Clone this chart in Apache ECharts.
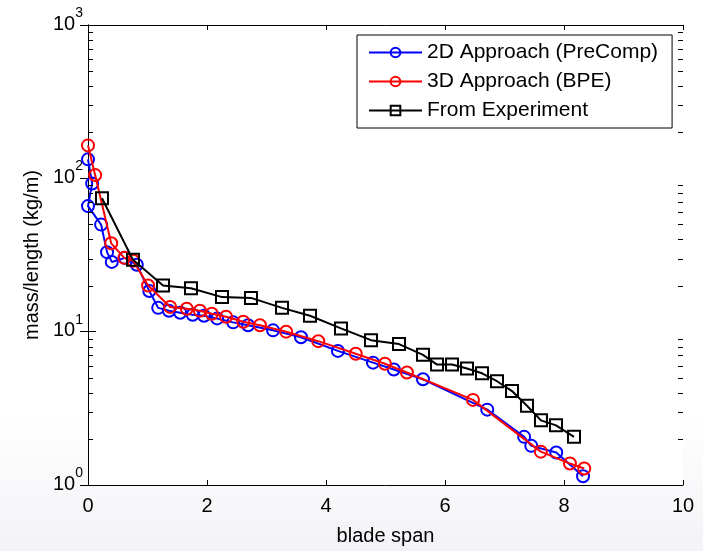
<!DOCTYPE html>
<html>
<head>
<meta charset="utf-8">
<script src="https://cdn.jsdelivr.net/npm/echarts@6/dist/echarts.min.js"></script>
<style>
  html, body { margin: 0; padding: 0; }
  body { background: linear-gradient(to bottom, #ffffff 0%, #ffffff 75%, #f2f3f6 100%); }
  #chart { width: 703px; height: 551px; }
</style>
</head>
<body>
<div id="chart"></div>
<script>
// Mass per unit length along the blade span
const xTicks = [0, 2, 4, 6, 8, 10];
const yTicks = [1, 10, 100, 1000];

const seriesNames = ['2D Approach (PreComp)', '3D Approach (BPE)', 'From Experiment'];

const precompSpan = [0, 0.07, 0, 0.22, 0.32, 0.40, 0.62, 0.82, 1.03, 1.18, 1.36, 1.55, 1.76, 1.95,
  2.17, 2.44, 2.69, 3.11, 3.58, 4.20, 4.79, 5.14, 5.63, 6.71, 7.33, 7.45, 7.87, 8.32];
const precompMass = [133, 92.5, 65.9, 49.9, 33.0, 28.5, 30.3, 27.3, 18.4, 14.3, 13.7, 13.3, 12.9, 12.7,
  12.2, 11.5, 11.0, 10.2, 9.2, 7.49, 6.28, 5.66, 4.89, 3.10, 2.06, 1.80, 1.63, 1.14];

const bpeSpan = [0, 0.12, 0.39, 0.61, 0.76, 1.01, 1.38, 1.66, 1.88, 2.08, 2.32, 2.61, 2.89, 3.33,
  3.87, 4.50, 4.99, 5.36, 6.47, 7.61, 8.10, 8.34];
const bpeMass = [164, 105, 37.7, 30.3, 29.0, 20.0, 14.5, 14.1, 13.7, 13.1, 12.5, 11.6, 11.0, 10.0,
  8.67, 7.17, 6.18, 5.42, 3.59, 1.65, 1.38, 1.28];

const expSpan = [0.235, 0.756, 1.261, 1.731, 2.252, 2.739, 3.261, 3.731, 4.252, 4.756, 5.227, 5.630,
  5.866, 6.118, 6.370, 6.622, 6.874, 7.126, 7.378, 7.613, 7.866, 8.168];
const expMass = [74.2, 29.4, 20.0, 19.2, 16.8, 16.6, 14.3, 12.7, 10.5, 8.8, 8.3, 7.06,
  6.1, 6.1, 5.75, 5.35, 4.75, 4.10, 3.29, 2.64, 2.45, 2.06];

const pairs = (xs, ys) => xs.map((x, i) => [x, ys[i]]);

const FONT = '"Liberation Sans", Arial, sans-serif';
const BLUE = '#0000ff', RED = '#ff0000', BLACK = '#000000';

const chart = echarts.init(document.getElementById('chart'), null, { renderer: 'canvas' });

const axisLineStyle = { lineStyle: { color: '#000', width: 1 } };

function expLabel(v) {
  const e = Math.round(Math.log10(v));
  return '{b|10}{s|' + e + '}';
}

const option = {
  animation: false,
  backgroundColor: 'transparent',
  textStyle: { fontFamily: FONT },
  grid: {
    left: 88, top: 25, width: 595, height: 470,
    show: true, backgroundColor: '#ffffff', borderWidth: 0
  },
  legend: {
    data: seriesNames,
    orient: 'vertical',
    left: 357, top: 35,
    itemWidth: 53, itemHeight: 12, itemGap: 8,
    padding: [7, 14, 7, 11],
    backgroundColor: '#ffffff',
    borderColor: '#000', borderWidth: 1, borderRadius: 0,
    textStyle: { fontFamily: FONT, fontSize: 21, color: '#000' }
  },
  xAxis: [
    {
      type: 'value', position: 'bottom', min: xTicks[0], max: xTicks[xTicks.length - 1], interval: 2,
      axisLine: axisLineStyle,
      axisTick: { inside: true, length: 5, lineStyle: { color: '#000' } },
      axisLabel: { color: '#000', fontSize: 20, fontFamily: FONT, margin: 11 },
      splitLine: { show: false },
      name: 'blade span', nameLocation: 'middle', nameGap: 41,
      nameTextStyle: { color: '#000', fontSize: 20, fontFamily: FONT }
    },
    {
      type: 'value', position: 'top', min: xTicks[0], max: xTicks[xTicks.length - 1], interval: 2,
      axisLine: axisLineStyle,
      axisTick: { inside: true, length: 5, lineStyle: { color: '#000' } },
      axisLabel: { show: false },
      splitLine: { show: false }
    }
  ],
  yAxis: [
    {
      type: 'log', logBase: 10, position: 'left', min: yTicks[0], max: yTicks[yTicks.length - 1],
      axisLine: axisLineStyle,
      axisTick: { inside: true, length: 8, lineStyle: { color: '#000' } },
      minorTick: { show: false },
      splitLine: { show: false },
      axisLabel: {
        color: '#000', margin: 5, fontFamily: FONT,
        formatter: expLabel,
        padding: [0, 0, 10, 0],
        rich: {
          b: { fontSize: 20, fontFamily: FONT, color: '#000', lineHeight: 28, verticalAlign: 'bottom' },
          s: { fontSize: 14, fontFamily: FONT, color: '#000', lineHeight: 28, verticalAlign: 'top' }
        }
      },
      name: 'mass/length (kg/m)', nameLocation: 'middle', nameGap: 44, nameRotate: 90,
      nameTextStyle: { color: '#000', fontSize: 20, fontFamily: FONT }
    },
    {
      type: 'log', logBase: 10, position: 'right', min: yTicks[0], max: yTicks[yTicks.length - 1],
      axisLine: axisLineStyle,
      axisTick: { inside: true, length: 8, lineStyle: { color: '#000' } },
      axisLabel: { show: false },
      splitLine: { show: false }
    }
  ],
  series: [
    {
      name: seriesNames[0], type: 'line', data: pairs(precompSpan, precompMass),
      symbol: 'circle', symbolSize: 12, z: 2,
      lineStyle: { color: BLUE, width: 2 },
      itemStyle: { color: 'rgba(0,0,0,0)', borderColor: BLUE, borderWidth: 2 }
    },
    {
      name: seriesNames[1], type: 'line', data: pairs(bpeSpan, bpeMass),
      symbol: 'circle', symbolSize: 12, z: 3,
      lineStyle: { color: RED, width: 2 },
      itemStyle: { color: 'rgba(0,0,0,0)', borderColor: RED, borderWidth: 2 }
    },
    {
      name: seriesNames[2], type: 'line', data: pairs(expSpan, expMass),
      symbol: 'rect', symbolSize: 12, z: 4,
      lineStyle: { color: BLACK, width: 2 },
      itemStyle: { color: 'rgba(0,0,0,0)', borderColor: BLACK, borderWidth: 2 }
    }
  ]
};

chart.setOption(option);

// Log-decade minor ticks (2..9 per decade) on the left and right axes
function drawMinorTicks() {
  const xl = chart.convertToPixel({ xAxisIndex: 0 }, xTicks[0]);
  const xr = chart.convertToPixel({ xAxisIndex: 0 }, xTicks[xTicks.length - 1]);
  const elements = [];
  for (let d = 0; d < yTicks.length - 1; d++) {
    for (let k = 2; k <= 9; k++) {
      const y = Math.round(chart.convertToPixel({ yAxisIndex: 0 }, yTicks[d] * k)) + 0.5;
      elements.push({ type: 'line', shape: { x1: xl, y1: y, x2: xl + 5, y2: y }, style: { stroke: '#000', lineWidth: 1 }, z: 10 });
      elements.push({ type: 'line', shape: { x1: xr - 5, y1: y, x2: xr, y2: y }, style: { stroke: '#000', lineWidth: 1 }, z: 10 });
    }
  }
  chart.setOption({ graphic: elements });
}
drawMinorTicks();
</script>
</body>
</html>
